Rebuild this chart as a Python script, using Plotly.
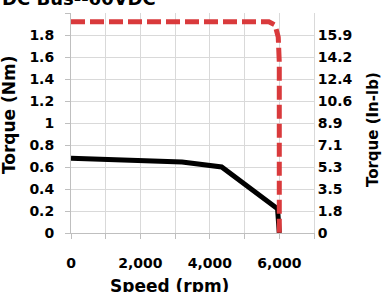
import plotly.graph_objects as go

# Data
speed_cont = [0, 3200, 4340, 5950, 6000]
torque_cont = [0.68, 0.645, 0.60, 0.22, 0.0]
speed_peak = [0, 5700, 5880, 5970, 6000, 6000]
torque_peak = [1.92, 1.92, 1.89, 1.78, 1.55, -0.04]

x_tickvals = [0, 1000, 2000, 3000, 4000, 5000, 6000, 7000]
x_ticktext = ["0", "", "2,000", "", "4,000", "", "6,000", ""]
y_tickvals = [0, 0.2, 0.4, 0.6, 0.8, 1.0, 1.2, 1.4, 1.6, 1.8, 2.0]
y_ticktext = ["0", "0.2", "0.4", "0.6", "0.8", "1", "1.2", "1.4", "1.6", "1.8", ""]
y2_ticktext = ["0", "1.8", "3.5", "5.3", "7.1", "8.9", "10.6", "12.4", "14.2", "15.9", ""]

FONT = "DejaVu Sans"
GRID = "#d9d9d9"
AXIS = "#bfbfbf"

fig = go.Figure()
fig.add_trace(go.Scatter(x=speed_cont, y=torque_cont, mode="lines",
                         line=dict(color="black", width=5), yaxis="y"))
fig.add_trace(go.Scatter(x=speed_peak, y=torque_peak, mode="lines",
                         line=dict(color="#d93a3c", width=5, dash="14px,5px"),
                         yaxis="y2"))

tickfont = dict(family=FONT, size=14, color="black", weight="bold")

fig.update_layout(
    width=383, height=292,
    margin=dict(l=71, r=69, t=13, b=59),
    paper_bgcolor="white", plot_bgcolor="white",
    showlegend=False,
    xaxis=dict(range=[0, 7000], tickvals=x_tickvals, ticktext=x_ticktext,
               showgrid=True, gridcolor=GRID, gridwidth=1,
               showline=True, linecolor=AXIS, linewidth=1,
               ticks="outside", ticklen=5, tickcolor=AXIS,
               tickfont=tickfont, ticklabelstandoff=12, zeroline=False),
    yaxis=dict(range=[0, 2], tickvals=y_tickvals, ticktext=y_ticktext,
               showgrid=True, gridcolor=GRID, gridwidth=1,
               showline=True, linecolor=AXIS, linewidth=1,
               ticks="outside", ticklen=5, tickcolor=AXIS,
               tickfont=tickfont, ticklabelstandoff=8, zeroline=False),
    yaxis2=dict(range=[0, 2], overlaying="y", side="right",
                tickvals=y_tickvals, ticktext=y2_ticktext,
                showgrid=False, showline=True, linecolor=GRID, linewidth=1,
                ticks="", tickfont=tickfont, ticklabelstandoff=0, zeroline=False),
    annotations=[
        dict(text="DC Bus--60VDC", xref="paper", yref="paper",
             x=-0.292, y=1.068, xanchor="left", yanchor="middle", showarrow=False,
             font=dict(family=FONT, size=18, color="black", weight="bold")),
        dict(text="Speed (rpm)", xref="paper", yref="paper",
             x=0.407, y=-0.241, xanchor="center", yanchor="middle", showarrow=False,
             font=dict(family=FONT, size=17, color="black", weight="bold")),
        dict(text="Torque (Nm)", xref="paper", yref="paper", textangle=-90,
             x=-0.255, y=0.536, xanchor="center", yanchor="middle", showarrow=False,
             font=dict(family=FONT, size=17, color="black", weight="bold")),
        dict(text="Torque (In-lb)", xref="paper", yref="paper", textangle=-90,
             x=1.243, y=0.468, xanchor="center", yanchor="middle", showarrow=False,
             font=dict(family=FONT, size=15, color="black", weight="bold")),
    ],
)

fig.write_html("out.html", config={"displayModeBar": False},
               post_script="document.body.style.margin='0';")
